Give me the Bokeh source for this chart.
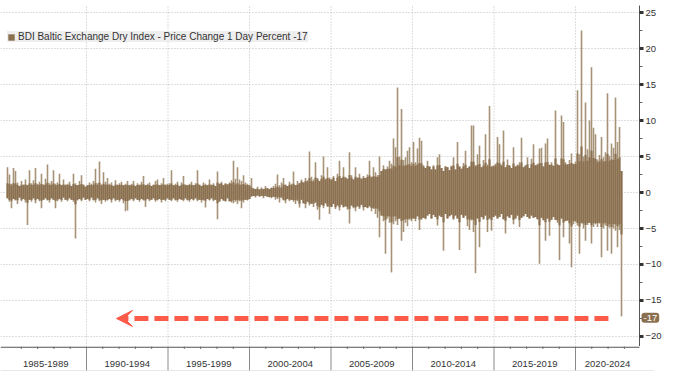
from bokeh.plotting import figure
from bokeh.layouts import column
from bokeh.models import (Range1d, FixedTicker, Label, Arrow, VeeHead, Legend,
                          LegendItem, ColumnDataSource, LinearAxis)
from bokeh.core.properties import value
from bokeh.embed import file_html
from bokeh.resources import INLINE

# ---------------- data ----------------
series_name = "BDI Baltic Exchange Dry Index - Price Change 1 Day Percent"
last_value = -17
first_col_year = 1985.153      # first sampled column
col_step_years = 0.1227        # spacing of the sampled columns

# per-column highest daily % change
hi = [
    3.5, 2.5, 1.2, 3.4, 3.0, 1.4, 0.9, 1.6, 1.1, 1.8,
    1.0, 3.1, 1.3, 1.7, 3.4, 1.2, 1.5, 2.6, 1.1, 1.9,
    3.9, 1.3, 1.6, 3.1, 1.2, 1.4, 2.6, 1.0, 1.8, 1.1,
    1.2, 1.5, 0.9, 2.6, 1.3, 1.0, 1.6, 2.4, 1.1, 0.8,
    1.0, 1.4, 1.2, 1.6, 3.3, 1.3, 4.3, 1.1, 2.8, 1.5,
    2.0, 1.2, 1.4, 0.9, 1.7, 1.1, 1.3, 1.5, 1.0, 1.2,
    1.6, 1.0, 1.2, 1.6, 0.9, 1.3, 1.1, 1.5, 2.3, 1.0,
    1.2, 1.4, 0.9, 1.1, 1.6, 1.8, 1.0, 1.3, 2.0, 1.1, 1.2,
    1.3, 3.1, 1.0, 1.2, 1.5, 0.9, 1.4, 2.3, 1.1, 1.0,
    1.2, 1.5, 1.0, 1.3, 3.1, 1.1, 0.9, 1.4, 1.2, 1.0,
    1.8, 1.1, 1.3, 0.9, 2.9, 1.2, 1.5, 1.0, 1.3, 1.1,
    1.4, 1.7, 4.4, 1.9, 3.5, 1.8, 1.6, 2.4, 1.4, 1.2, 1.0,
    2.0, 0.6, 0.5, 0.8, 0.4, 0.7, 0.5, 0.9, 0.6, 0.5,
    0.7, 0.9, 1.2, 2.5, 1.0, 1.4, 2.0, 1.1, 0.9, 1.5,
    1.2, 2.9, 1.0, 1.6, 1.3, 1.8, 1.4, 2.0, 1.7, 5.7,
    2.2, 1.8, 4.2, 2.0, 1.6, 2.4, 5.0, 1.9, 3.5, 2.1,
    1.8, 2.3, 1.6, 2.6, 4.4, 2.0, 3.5, 2.2, 1.9, 5.6,
    2.4, 1.8, 3.5, 2.1, 2.6, 1.9, 2.3, 2.0, 2.5, 4.4,
    2.2, 3.5, 2.8, 2.4, 5.0, 3.0, 3.8, 3.2, 3.6, 4.4,
    4.0, 7.5, 6.3, 14.6, 5.0, 11.6, 4.5, 4.9, 5.8, 6.3, 4.2,
    7.0, 4.2, 6.1, 7.6, 7.2, 3.8, 3.4, 4.4, 3.6, 3.2,
    3.8, 3.2, 4.9, 5.3, 3.4, 3.0, 3.6, 3.5, 3.1, 3.7,
    4.9, 3.2, 7.0, 3.6, 3.3, 4.1, 5.8, 3.4, 3.6, 9.3,
    9.3, 3.8, 5.3, 6.5, 3.5, 4.5, 8.1, 3.9, 12.0, 3.6, 3.8,
    4.0, 7.7, 6.7, 3.9, 8.6, 3.5, 4.6, 3.8, 3.4, 6.3,
    3.6, 3.9, 4.2, 7.6, 3.5, 3.8, 4.9, 3.4, 4.7, 6.7,
    3.8, 4.0, 6.1, 6.2, 3.6, 6.8, 7.5, 3.9, 4.2, 3.7,
    11.4, 4.0, 3.8, 10.7, 9.8, 4.2, 3.9, 4.5, 5.4, 4.0, 4.3,
    14.2, 5.3, 22.5, 5.0, 12.5, 6.0, 10.0, 17.4, 9.0, 8.1,
    4.6, 5.2, 7.7, 4.9, 5.6, 13.8, 5.1, 6.8, 6.2, 13.2, 7.0, 9.1, 3.0,
]
# per-column lowest daily % change
lo = [
    -0.8, -1.3, -2.2, -0.9, -1.1, -1.6, -0.7, -1.2, -0.9, -1.4,
    -4.5, -1.0, -1.3, -0.8, -1.5, -0.9, -1.2, -2.2, -1.0, -0.8,
    -1.1, -1.4, -0.8, -1.0, -2.2, -1.2, -0.9, -1.3, -0.7, -1.0,
    -1.2, -0.8, -1.0, -1.3, -6.4, -1.1, -0.9, -1.2, -0.7, -1.0,
    -0.9, -1.2, -0.7, -1.1, -1.4, -0.8, -1.2, -1.6, -1.0, -1.3,
    -1.1, -0.9, -1.4, -0.8, -1.2, -1.0, -1.3, -0.9, -1.5, -2.6,
    -2.5, -1.1, -0.9, -1.2, -0.8, -1.0, -1.3, -0.9, -1.1, -2.0,
    -0.9, -1.2, -1.0, -0.8, -1.3, -1.1, -0.9, -1.4, -1.0, -1.2, -0.8,
    -1.0, -1.2, -0.8, -1.1, -1.3, -0.9, -1.0, -1.2, -0.8, -1.1,
    -1.3, -0.9, -1.1, -0.8, -1.2, -1.0, -1.4, -1.1, -2.1, -0.9,
    -1.1, -0.8, -1.2, -1.0, -3.7, -1.3, -0.9, -1.1, -1.2, -0.8,
    -1.2, -1.4, -1.5, -1.3, -1.6, -1.2, -2.2, -1.4, -1.0, -1.1, -0.9,
    -0.6, -0.5, -0.7, -0.4, -0.6, -0.5, -0.8, -0.5, -0.6, -0.7,
    -0.8, -0.6, -1.0, -0.9, -1.4, -0.8, -1.1, -1.5, -0.9, -1.2,
    -1.0, -1.3, -1.6, -1.2, -2.1, -1.0, -1.5, -2.2, -1.3, -1.8,
    -1.6, -2.0, -1.4, -2.4, -3.8, -1.7, -2.2, -1.5, -2.0, -3.0,
    -2.0, -1.6, -2.3, -1.8, -2.5, -1.7, -2.1, -1.9, -2.4, -4.3,
    -1.8, -2.2, -2.6, -1.9, -2.3, -1.7, -2.5, -2.0, -2.2, -1.9,
    -2.6, -2.3, -3.0, -3.5, -6.2, -3.2, -4.0, -8.5, -3.6, -4.2,
    -11.1, -4.4, -4.0, -4.5, -3.6, -6.7, -5.5, -4.2, -4.7, -3.8, -4.0,
    -3.6, -4.0, -3.3, -5.2, -3.8, -3.5, -3.7, -3.2, -3.0, -3.6,
    -3.1, -3.4, -4.6, -3.2, -3.4, -8.1, -3.0, -3.6, -3.3, -3.1,
    -3.8, -3.2, -3.6, -8.0, -3.1, -3.5, -3.2, -4.7, -5.2, -3.9,
    -5.5, -11.2, -3.6, -7.6, -3.4, -3.8, -3.2, -5.5, -3.6, -5.3, -3.4,
    -3.2, -3.6, -3.4, -3.0, -3.7, -5.7, -3.3, -3.5, -3.1, -4.4,
    -3.6, -3.2, -4.8, -3.5, -3.3, -3.0, -3.4, -3.6, -3.2, -3.5,
    -3.4, -3.7, -9.9, -3.5, -3.9, -6.7, -3.6, -6.0, -3.8, -3.4,
    -3.8, -4.2, -9.4, -3.6, -6.2, -4.0, -3.9, -7.1, -10.4, -4.4, -4.1,
    -4.6, -8.5, -4.3, -5.0, -6.7, -4.5, -4.2, -7.1, -4.8, -4.4,
    -4.8, -4.3, -9.0, -5.0, -4.6, -8.1, -4.9, -8.5, -5.0, -5.3, -7.6, -5.2, -17.2,
]
# typical (dense) daily range per calendar year, 1985 .. 2023
core_amp = [
    1.0, 1.0, 1.0, 1.0, 1.0, 1.0, 1.0, 1.0, 1.0, 1.0,
    1.0, 1.0, 1.0, 1.2, 1.0, 0.5, 0.6, 1.0, 1.5, 1.8,
    2.0, 2.0, 2.1, 3.2, 3.6, 3.6, 3.6, 3.6, 3.6, 3.6,
    3.7, 3.7, 3.8, 3.8, 3.9, 4.2, 4.2, 4.3, 4.3,
]
band_starts = [1985, 1990, 1995, 2000, 2005, 2010, 2015, 2020]
band_labels = ["1985-1989", "1990-1994", "1995-1999", "2000-2004",
               "2005-2009", "2010-2014", "2015-2019", "2020-2024"]
y_ticks = [-20, -15, -10, -5, 0, 5, 10, 15, 20, 25]
y_minor = [-17.5, -12.5, -7.5, -2.5, 2.5, 7.5, 12.5, 17.5, 22.5]

# ---------------- layout constants ----------------
X0, X1 = 1984.724, 2025.828      # frame spans the full figure width
Y0, Y1 = -21.389, 26.667
AXIS_X = 2023.926                # where the value axis sits
GRID_TOP = 25.97
LINE_END = 2024.785
FONT = "Liberation Sans"
CORE = "#8b7050"
LIGHT = "#a69276"
RED = "#fd5b4a"
GRID = "#bdbdbd"
arrow_y = -17.5
arrow_from, arrow_to = 2022.02, 1991.84
tag_y = -17.4
SPIKE_KEEP = 0.12

n = min(len(hi), len(lo))
xs = [first_col_year + col_step_years * i for i in range(n)]


def soften(v, a):
    return v if v <= a else a + (v - a) * SPIKE_KEEP


core_hi = [soften(h, core_amp[int(x - 1985)]) for h, x in zip(hi, xs)]
core_lo = [-soften(-l, core_amp[int(x - 1985)]) for l, x in zip(lo, xs)]
src = ColumnDataSource(dict(x=xs, hi=hi[:n], lo=lo[:n], core_hi=core_hi, core_lo=core_lo))

xr = Range1d(X0, X1)
p = figure(width=670, height=346, x_range=xr, y_range=Range1d(Y0, Y1),
           output_backend="svg", toolbar_location=None,
           x_axis_location=None, y_axis_location=None,
           min_border_left=0, min_border_right=0, min_border_top=0, min_border_bottom=0)
p.outline_line_color = None
p.background_fill_color = "white"
p.grid.visible = False

# dotted grid, stopping at the value axis
p.segment(x0=[X0] * len(y_ticks), y0=y_ticks, x1=[AXIS_X] * len(y_ticks), y1=y_ticks,
          line_color=GRID, line_dash="1 2", line_width=1)
vg = band_starts[1:]
p.segment(x0=vg, y0=[Y0] * len(vg), x1=vg, y1=[GRID_TOP] * len(vg),
          line_color=GRID, line_dash="1 2", line_width=1)

# value axis on the right, pinned at AXIS_X
ax = LinearAxis(fixed_location=AXIS_X, bounds=(Y0, GRID_TOP),
                ticker=FixedTicker(ticks=y_ticks, minor_ticks=y_minor))
ax.axis_line_color = "#555555"
ax.major_tick_in = 0
ax.major_tick_out = 4
ax.major_tick_line_width = 3
ax.major_tick_line_color = "#333333"
ax.minor_tick_in = 0
ax.minor_tick_out = 3
ax.minor_tick_line_color = "#666666"
ax.major_label_standoff = 2
ax.major_label_text_font = FONT
ax.major_label_text_font_size = "9.5px"
ax.major_label_text_color = "#333333"
p.add_layout(ax, "right")

p.vbar(x="x", top="hi", bottom="lo", width=col_step_years * 0.8, source=src,
       fill_color=LIGHT, line_color=None)
core_r = p.vbar(x="x", top="core_hi", bottom="core_lo", width=col_step_years * 1.05,
                source=src, fill_color=CORE, line_color=None)

p.add_layout(Arrow(end=VeeHead(size=16, fill_color=RED, line_color=RED, line_width=1),
                   x_start=arrow_from, y_start=arrow_y, x_end=arrow_to, y_end=arrow_y,
                   line_color=RED, line_width=5, line_dash="14 6"))

p.add_layout(Label(x=AXIS_X, y=tag_y, x_offset=2, text=str(last_value), text_font=FONT,
                   text_font_size="9.5px", text_color="white", text_baseline="middle",
                   text_align="left", background_fill_color=CORE, padding=2, border_radius=3))

legend = Legend(items=[LegendItem(label=f"{series_name} {last_value}", renderers=[core_r])],
                location=(7, 304), background_fill_color="#eeeeee", background_fill_alpha=1,
                border_line_color=None, label_text_font=FONT, label_text_font_size="10px",
                label_text_color="#333333", glyph_width=8, glyph_height=8, label_height=10,
                label_standoff=3, padding=5, margin=0, spacing=0)
p.add_layout(legend)

# ---------------- bottom category strip ----------------
s = figure(width=670, height=25, x_range=xr, y_range=Range1d(25, 0),
           output_backend="svg", toolbar_location=None,
           x_axis_location=None, y_axis_location=None,
           min_border_left=0, min_border_right=0, min_border_top=0, min_border_bottom=0)
s.outline_line_color = None
s.grid.visible = False

year_ticks = [y for y in range(1986, 2024) if y not in band_starts]
s.segment(x0=year_ticks, y0=[0] * len(year_ticks), x1=year_ticks, y1=[2.5] * len(year_ticks),
          line_color="#777777", line_width=1)
seps = band_starts[1:]
s.segment(x0=seps, y0=[0] * len(seps), x1=seps, y1=[24] * len(seps),
          line_color="#8a8a8a", line_width=1)
s.segment(x0=[X0], y0=[0.6], x1=[AXIS_X], y1=[0.6], line_color="#555555", line_width=1.3)
s.segment(x0=[X0], y0=[24.5], x1=[LINE_END], y1=[24.5], line_color="#d0d0d0", line_width=1)
band_ends = band_starts[1:] + [AXIS_X]
centers = [(a + b) / 2 for a, b in zip(band_starts, band_ends)]
s.text(x=centers, y=[17] * len(centers), text=band_labels, text_align="center",
       text_baseline="middle", text_font=value(FONT), text_font_size=value("9.5px"),
       text_color="#333333")

layout = column(p, s, spacing=0)
open("out.html", "w").write(file_html(layout, INLINE))
